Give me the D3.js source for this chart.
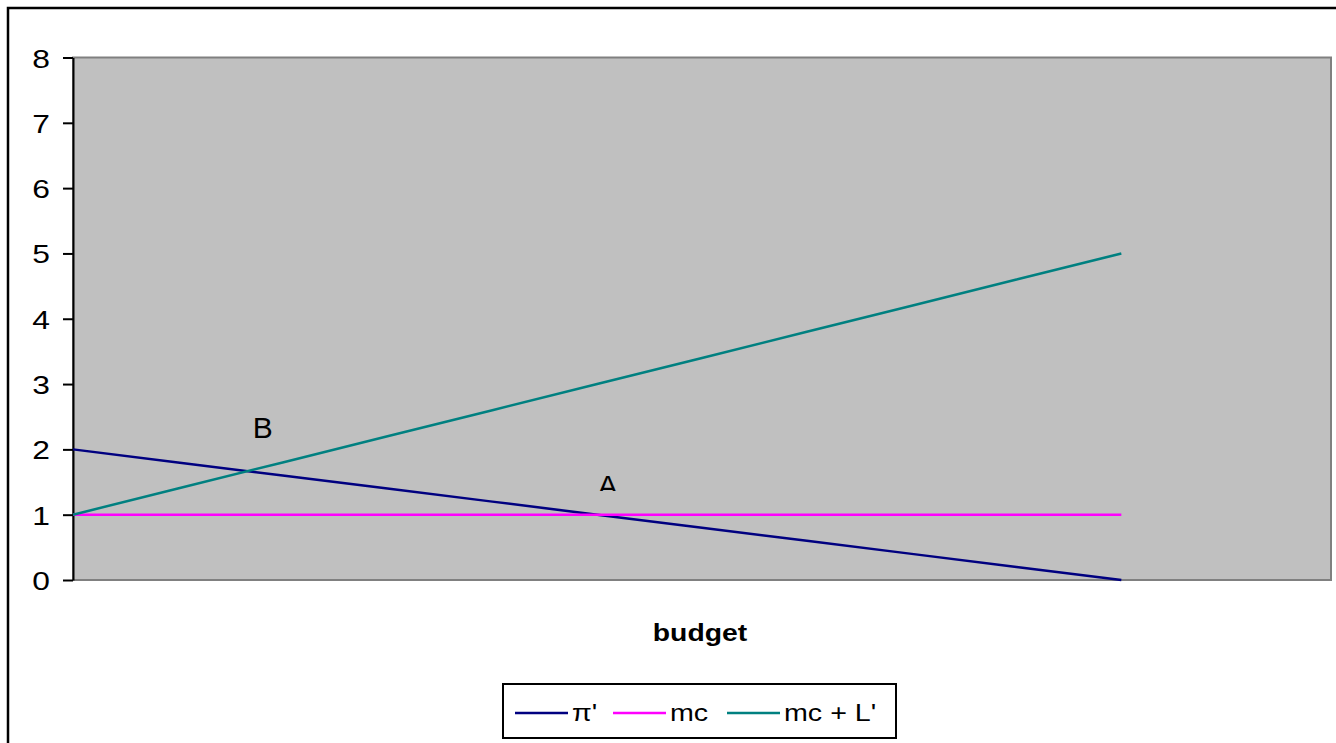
<!DOCTYPE html>
<html>
<head>
<meta charset="utf-8">
<script src="https://cdn.jsdelivr.net/npm/d3@7"></script>
<style>
  body { margin: 0; background: #fff; }
  text { font-family: "Liberation Sans", Arial, sans-serif; }
</style>
</head>
<body>
<div id="chart"></div>
<script>
'use strict'

// budget steps (the last two are empty slots on the axis)
const categories = ['0', '1', '2', '3', '4', '5', '6', '7', '8', '9', '10', '11', '12']
const piPrime = [2, 1.8, 1.6, 1.4, 1.2, 1.0, 0.8, 0.6, 0.4, 0.2, 0]
const mc = [1, 1, 1, 1, 1, 1, 1, 1, 1, 1, 1]
const mcPlusL = [1, 1.4, 1.8, 2.2, 2.6, 3.0, 3.4, 3.8, 4.2, 4.6, 5.0]
const yTicks = [0, 1, 2, 3, 4, 5, 6, 7, 8]

const series = [
    {name: "\u03c0'", values: piPrime, color: '#000080'},
    {name: 'mc', values: mc, color: '#ff00ff'},
    {name: "mc + L'", values: mcPlusL, color: '#008080'}
]

// point labels: [category position, y value, text]
const notes = [
    {x: 1.81, y: 2.18, text: 'B', clip: false},
    {x: 5.1, y: 1.28, text: 'A', clip: true}
]

////////////////////////////////////
//////////// svg setup /////////////
////////////////////////////////////

const svgWidth = 1336
const svgHeight = 743

const plot = {left: 73, right: 1331, top: 57.5, bottom: 580}

const svg = d3.select('#chart')
    .append('svg')
    .attr('width', svgWidth)
    .attr('height', svgHeight)

// chart border (runs off the picture on the right and bottom)
svg.append('rect')
    .attr('x', 8).attr('y', 8)
    .attr('width', 1400).attr('height', 800)
    .attr('fill', '#fff')
    .attr('stroke', '#000')
    .attr('stroke-width', 2.5)

////////////////////////////////////
//////////////scales////////////////
////////////////////////////////////

const xScale = d3.scalePoint()
    .domain(categories)
    .range([plot.left, plot.right])

const xPos = d3.scaleLinear()
    .domain([0, categories.length - 1])
    .range([plot.left, plot.right])

const yScale = d3.scaleLinear()
    .domain([0, 8])
    .range([plot.bottom, plot.top])

// plot area
svg.append('rect')
    .attr('x', plot.left).attr('y', plot.top)
    .attr('width', plot.right - plot.left)
    .attr('height', plot.bottom - plot.top)
    .attr('fill', '#c0c0c0')
    .attr('stroke', '#808080')
    .attr('stroke-width', 2)

// y axis
const yAxis = svg.append('g')
    .attr('transform', `translate(${plot.left},0)`)
    .call(d3.axisLeft(yScale).tickValues(yTicks).tickSize(10).tickPadding(13).tickSizeOuter(0))

yAxis.select('.domain').attr('stroke', '#000').attr('stroke-width', 2)
yAxis.selectAll('.tick line').attr('stroke', '#000').attr('stroke-width', 2)
yAxis.selectAll('.tick text')
    .attr('font-size', 26.5)
    .attr('fill', '#000')
    .attr('dy', '0.36em')
    .attr('transform', function () {
        const x = +d3.select(this).attr('x')
        return `translate(${x},0) scale(1.2,1) translate(${-x},0)`
    })

////////////////////////////////////
//////////////lines/////////////////
////////////////////////////////////

const line = d3.line()
    .x((d, i) => xScale(categories[i]))
    .y(d => yScale(d))

svg.selectAll('.series')
    .data(series)
    .join('path')
    .attr('class', 'series')
    .attr('d', d => line(d.values))
    .attr('fill', 'none')
    .attr('stroke', d => d.color)
    .attr('stroke-width', 2.5)

// text labels on the plot, "A" is cut off by its box
svg.append('clipPath')
    .attr('id', 'aclip')
    .attr('clipPathUnits', 'userSpaceOnUse')
    .append('rect')
    .attr('x', 0).attr('y', 0)
    .attr('width', svgWidth).attr('height', 491)

notes.forEach(n => {
    svg.append('g')
        .attr('clip-path', n.clip ? 'url(#aclip)' : null)
        .append('text')
        .attr('x', xPos(n.x))
        .attr('y', yScale(n.y))
        .attr('text-anchor', 'middle')
        .attr('font-size', 30)
        .attr('fill', '#000')
        .text(n.text)
})

// x axis title
svg.append('text')
    .attr('transform', 'translate(700,641) scale(1.18,1)')
    .attr('text-anchor', 'middle')
    .attr('font-size', 24)
    .attr('font-weight', 'bold')
    .attr('fill', '#000')
    .text('budget')

////////////////////////////////////
//////////////legend////////////////
////////////////////////////////////

const legend = svg.append('g')
legend.append('rect')
    .attr('x', 503).attr('y', 684)
    .attr('width', 393).attr('height', 54)
    .attr('fill', '#fff')
    .attr('stroke', '#000')
    .attr('stroke-width', 2)

const legendX = [515, 613, 727]
series.forEach((s, i) => {
    legend.append('line')
        .attr('x1', legendX[i]).attr('x2', legendX[i] + 53)
        .attr('y1', 713).attr('y2', 713)
        .attr('stroke', s.color)
        .attr('stroke-width', 2.5)
    legend.append('text')
        .attr('transform', `translate(${legendX[i] + 57},721) scale(1.17,1)`)
        .attr('font-size', 24.5)
        .attr('fill', '#000')
        .text(s.name)
})
</script>
</body>
</html>
